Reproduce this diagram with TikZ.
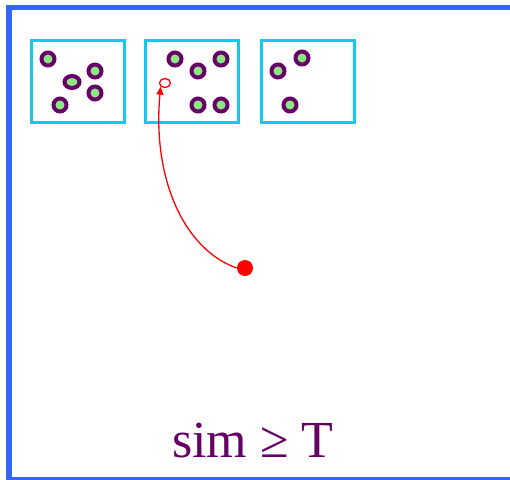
\documentclass[tikz,border=0pt]{standalone}
\usepackage{fontspec}
\setmainfont{Liberation Serif}
\usetikzlibrary{arrows.meta,shapes.geometric}
\definecolor{frameblue}{RGB}{51,102,255}
\definecolor{boxcyan}{RGB}{20,200,240}
\definecolor{dotpurple}{RGB}{102,0,102}
\definecolor{dotgreen}{RGB}{140,230,130}
\definecolor{txtpurple}{RGB}{102,0,102}
\tikzset{
  clusterbox/.style={draw=boxcyan, line width=3pt, minimum width=93pt, minimum height=82pt, inner sep=0pt},
  pt/.style={circle, draw=dotpurple, fill=dotgreen, line width=4pt, minimum size=13pt, inner sep=0pt},
  newpt/.style={ellipse, draw=red, fill=white, line width=1.3pt, minimum width=11pt, minimum height=9pt, inner sep=0pt},
  bigdot/.style={circle, fill=red, minimum size=16pt, inner sep=0pt},
  link/.style={draw=red, line width=1.3pt, -{Triangle[length=8pt,width=7pt]}}
}
\begin{document}
\begin{tikzpicture}[x=1pt,y=-1pt]
\useasboundingbox (0,0) rectangle (510,479);
\fill[white] (0,0) rectangle (510,479);
\draw[frameblue, line width=5.5pt] (9,479.5) -- (9,7.5) -- (540,7.5);
\draw[frameblue, line width=5.5pt] (9,479.5) -- (540,479.5);
% cluster boxes
\node[clusterbox] (b1) at (77.5,81.5) {};
\node[clusterbox] (b2) at (192,81.5) {};
\node[clusterbox] (b3) at (307.5,81.5) {};
% points box 1
\node[pt] (p11) at (48,59) {};
\node[pt] (p12) at (95,71) {};
\node[pt, ellipse, minimum width=15pt, minimum height=12pt] (p13) at (72,82) {};
\node[pt] (p14) at (95,93) {};
\node[pt] (p15) at (60,105) {};
% points box 2
\node[pt] (p21) at (175,59) {};
\node[pt] (p22) at (221,59) {};
\node[pt] (p23) at (198,71) {};
\node[pt] (p24) at (198,105) {};
\node[pt] (p25) at (221,105) {};
\node[newpt] (new) at (165,83) {};
% points box 3
\node[pt] (p31) at (302,58) {};
\node[pt] (p32) at (278,71) {};
\node[pt] (p33) at (290,105) {};
% moving point
\node[bigdot] (m) at (245,268) {};
\draw[link] (m.west) .. controls (185,250) and (152,180) .. (new.south west);
% label
\node[anchor=base, text=txtpurple, font=\fontsize{52}{60}\selectfont, inner sep=0pt] (lbl) at (253,457) {sim ≥ T};
\end{tikzpicture}
\end{document}
